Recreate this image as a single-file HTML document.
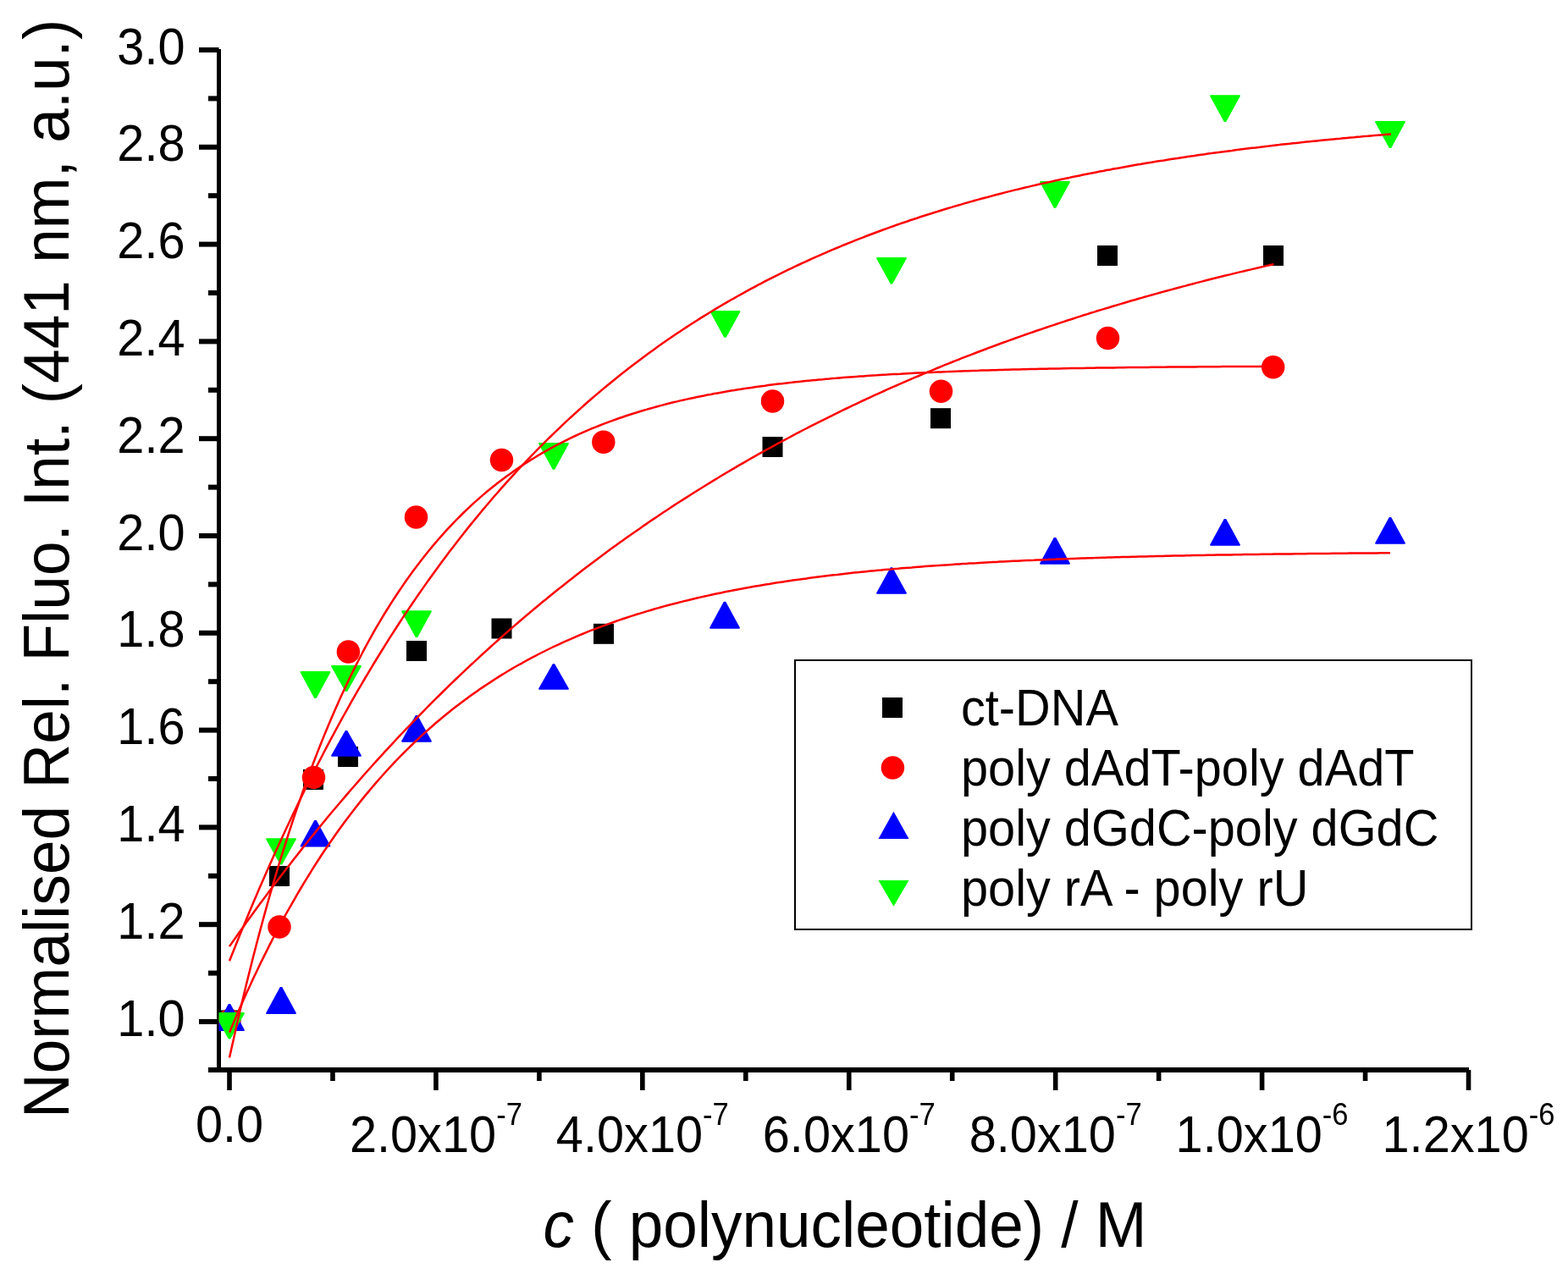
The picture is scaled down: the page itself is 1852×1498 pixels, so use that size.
<!DOCTYPE html>
<html><head><meta charset="utf-8"><title>Fluorescence titration</title>
<style>html,body{margin:0;padding:0;background:#fff;overflow:hidden;}svg{display:block;}</style></head><body>
<svg width="1852" height="1498" viewBox="0 0 1852 1498" font-family="'Liberation Sans', Arial, sans-serif">
<rect x="0" y="0" width="1852" height="1498" fill="#fff"/>
<defs><clipPath id="plot"><rect x="258.5" y="0" width="1500" height="1264"/></clipPath></defs>
<g fill="#000">
<rect x="256" y="58" width="5" height="1209"/>
<rect x="246" y="1261" width="1489" height="6"/>
<rect x="235" y="1204.00" width="23.5" height="6"/>
<rect x="235" y="1089.20" width="23.5" height="6"/>
<rect x="235" y="974.40" width="23.5" height="6"/>
<rect x="235" y="859.60" width="23.5" height="6"/>
<rect x="235" y="744.80" width="23.5" height="6"/>
<rect x="235" y="630.00" width="23.5" height="6"/>
<rect x="235" y="515.20" width="23.5" height="6"/>
<rect x="235" y="400.40" width="23.5" height="6"/>
<rect x="235" y="285.60" width="23.5" height="6"/>
<rect x="235" y="170.80" width="23.5" height="6"/>
<rect x="235" y="56.00" width="23.5" height="6"/>
<rect x="246" y="1146.60" width="12.5" height="6"/>
<rect x="246" y="1031.80" width="12.5" height="6"/>
<rect x="246" y="917.00" width="12.5" height="6"/>
<rect x="246" y="802.20" width="12.5" height="6"/>
<rect x="246" y="687.40" width="12.5" height="6"/>
<rect x="246" y="572.60" width="12.5" height="6"/>
<rect x="246" y="457.80" width="12.5" height="6"/>
<rect x="246" y="343.00" width="12.5" height="6"/>
<rect x="246" y="228.20" width="12.5" height="6"/>
<rect x="246" y="113.40" width="12.5" height="6"/>
<rect x="268.20" y="1264" width="5.6" height="24"/>
<rect x="512.12" y="1264" width="5.6" height="24"/>
<rect x="756.04" y="1264" width="5.6" height="24"/>
<rect x="999.96" y="1264" width="5.6" height="24"/>
<rect x="1243.88" y="1264" width="5.6" height="24"/>
<rect x="1487.80" y="1264" width="5.6" height="24"/>
<rect x="1731.72" y="1264" width="5.6" height="24"/>
<rect x="390.16" y="1264" width="5.6" height="13"/>
<rect x="634.08" y="1264" width="5.6" height="13"/>
<rect x="878.00" y="1264" width="5.6" height="13"/>
<rect x="1121.92" y="1264" width="5.6" height="13"/>
<rect x="1365.84" y="1264" width="5.6" height="13"/>
<rect x="1609.76" y="1264" width="5.6" height="13"/>
</g>
<g font-size="57.7" fill="#000">
<text transform="translate(218.5,1223.60) scale(1,1.045)" text-anchor="end">1.0</text>
<text transform="translate(218.5,1108.80) scale(1,1.045)" text-anchor="end">1.2</text>
<text transform="translate(218.5,994.00) scale(1,1.045)" text-anchor="end">1.4</text>
<text transform="translate(218.5,879.20) scale(1,1.045)" text-anchor="end">1.6</text>
<text transform="translate(218.5,764.40) scale(1,1.045)" text-anchor="end">1.8</text>
<text transform="translate(218.5,649.60) scale(1,1.045)" text-anchor="end">2.0</text>
<text transform="translate(218.5,534.80) scale(1,1.045)" text-anchor="end">2.2</text>
<text transform="translate(218.5,420.00) scale(1,1.045)" text-anchor="end">2.4</text>
<text transform="translate(218.5,305.20) scale(1,1.045)" text-anchor="end">2.6</text>
<text transform="translate(218.5,190.40) scale(1,1.045)" text-anchor="end">2.8</text>
<text transform="translate(218.5,75.60) scale(1,1.045)" text-anchor="end">3.0</text>
<text transform="translate(271,1348.8) scale(1,1.045)" text-anchor="middle">0.0</text>
<text transform="translate(514.92,1361.4) scale(1,1.045)" text-anchor="middle">2.0x10<tspan font-size="34.6" dy="-31.3">-7</tspan></text>
<text transform="translate(758.84,1361.4) scale(1,1.045)" text-anchor="middle">4.0x10<tspan font-size="34.6" dy="-31.3">-7</tspan></text>
<text transform="translate(1002.76,1361.4) scale(1,1.045)" text-anchor="middle">6.0x10<tspan font-size="34.6" dy="-31.3">-7</tspan></text>
<text transform="translate(1246.68,1361.4) scale(1,1.045)" text-anchor="middle">8.0x10<tspan font-size="34.6" dy="-31.3">-7</tspan></text>
<text transform="translate(1490.60,1361.4) scale(1,1.045)" text-anchor="middle">1.0x10<tspan font-size="34.6" dy="-31.3">-6</tspan></text>
<text transform="translate(1734.52,1361.4) scale(1,1.045)" text-anchor="middle">1.2x10<tspan font-size="34.6" dy="-31.3">-6</tspan></text>
</g>
<text transform="translate(81,671.9) rotate(-90) scale(1,1.045)" text-anchor="middle" font-size="73.0">Normalised Rel. Fluo. Int. (441 nm, a.u.)</text>
<text transform="translate(998,1473) scale(1,1.045)" text-anchor="middle" font-size="72.9"><tspan font-style="italic">c</tspan> ( polynucleotide) / M</text>
<g clip-path="url(#plot)">
<g fill="#000">
<rect x="258.0" y="1193.5" width="24" height="24"/>
<rect x="318.0" y="1023.0" width="24" height="24"/>
<rect x="358.0" y="909.0" width="24" height="24"/>
<rect x="399.0" y="882.0" width="24" height="24"/>
<rect x="480.0" y="757.0" width="24" height="24"/>
<rect x="580.5" y="730.5" width="24" height="24"/>
<rect x="701.0" y="736.8" width="24" height="24"/>
<rect x="900.5" y="516.0" width="24" height="24"/>
<rect x="1099.0" y="482.2" width="24" height="24"/>
<rect x="1296.0" y="290.0" width="24" height="24"/>
<rect x="1492.0" y="290.0" width="24" height="24"/>
</g><g fill="#f00">
<circle cx="271" cy="1205.5" r="13.75"/>
<circle cx="330" cy="1095" r="13.75"/>
<circle cx="370.5" cy="918.4" r="13.75"/>
<circle cx="411.4" cy="770" r="13.75"/>
<circle cx="491.5" cy="611" r="13.75"/>
<circle cx="592.5" cy="543.5" r="13.75"/>
<circle cx="712.8" cy="522.3" r="13.75"/>
<circle cx="912.5" cy="474" r="13.75"/>
<circle cx="1111.5" cy="462.3" r="13.75"/>
<circle cx="1308.5" cy="399.5" r="13.75"/>
<circle cx="1503.7" cy="433.8" r="13.75"/>
</g><g fill="#00f">
<polygon points="269.8,1186 272.2,1186 289,1217 288.3,1218 253.7,1218 253,1217"/>
<polygon points="330.8,1166 333.2,1166 350,1197 349.3,1198 314.7,1198 314,1197"/>
<polygon points="371.3,969 373.7,969 390.5,999.6 389.8,1000.6 355.2,1000.6 354.5,999.6"/>
<polygon points="407.8,863 410.2,863 427,892.7 426.3,893.7 391.7,893.7 391,892.7"/>
<polygon points="490.8,845 493.2,845 510,875.7 509.3,876.7 474.7,876.7 474,875.7"/>
<polygon points="652.8,784.3 655.2,784.3 672,813.7 671.3,814.7 636.7,814.7 636,813.7"/>
<polygon points="854.8,710.8 857.2,710.8 874,741.8 873.3,742.8 838.7,742.8 838,741.8"/>
<polygon points="1051.8,670.2 1054.2,670.2 1071,700.8 1070.3,701.8 1035.7,701.8 1035,700.8"/>
<polygon points="1244.8,635 1247.2,635 1264,665.7 1263.3,666.7 1228.7,666.7 1228,665.7"/>
<polygon points="1445.8,613 1448.2,613 1465,643.7 1464.3,644.7 1429.7,644.7 1429,643.7"/>
<polygon points="1640.8,611.1 1643.2,611.1 1660,641.8 1659.3,642.8 1624.7,642.8 1624,641.8"/>
</g><g fill="#0f0">
<polygon points="253,1197 253.7,1196 288.3,1196 289,1197 272.2,1227.5 269.8,1227.5"/>
<polygon points="314,991.2 314.7,990.2 349.3,990.2 350,991.2 333.2,1021.4 330.8,1021.4"/>
<polygon points="354.5,794 355.2,793 389.8,793 390.5,794 373.7,824.9 371.3,824.9"/>
<polygon points="391,787.1 391.7,786.1 426.3,786.1 427,787.1 410.2,816.9 407.8,816.9"/>
<polygon points="474,722.3 474.7,721.3 509.3,721.3 510,722.3 493.2,752.9 490.8,752.9"/>
<polygon points="636,524 636.7,523 671.3,523 672,524 655.2,554.8 652.8,554.8"/>
<polygon points="838.5,368 839.2,367 873.8,367 874.5,368 857.7,398.8 855.3,398.8"/>
<polygon points="1035,305.1 1035.7,304.1 1070.3,304.1 1071,305.1 1054.2,335.6 1051.8,335.6"/>
<polygon points="1228,215.1 1228.7,214.1 1263.3,214.1 1264,215.1 1247.2,245.8 1244.8,245.8"/>
<polygon points="1429,113.2 1429.7,112.2 1464.3,112.2 1465,113.2 1448.2,143.9 1445.8,143.9"/>
<polygon points="1624,144 1624.7,143 1659.3,143 1660,144 1643.2,174.9 1640.8,174.9"/>
</g>
<g fill="none" stroke="#f00" stroke-width="2.5" stroke-linejoin="round">
<polyline points="271.0,1118.1 275.0,1112.4 279.0,1106.7 283.0,1101.0 287.0,1095.4 291.0,1089.8 295.0,1084.3 299.0,1078.7 303.0,1073.3 307.0,1067.8 311.0,1062.4 315.1,1057.0 319.1,1051.6 323.1,1046.3 327.1,1041.0 331.1,1035.8 335.1,1030.5 339.1,1025.3 343.1,1020.2 347.1,1015.0 351.1,1009.9 355.1,1004.9 359.1,999.8 363.1,994.8 367.1,989.8 371.1,984.9 375.1,979.9 379.1,975.0 383.1,970.2 387.1,965.3 391.1,960.5 395.2,955.8 399.2,951.0 403.2,946.3 407.2,941.6 411.2,936.9 415.2,932.3 419.2,927.7 423.2,923.1 427.2,918.5 431.2,914.0 435.2,909.5 439.2,905.0 443.2,900.6 447.2,896.2 451.2,891.8 455.2,887.4 459.2,883.1 463.2,878.8 467.2,874.5 471.2,870.2 475.2,866.0 479.3,861.7 483.3,857.6 487.3,853.4 491.3,849.3 495.3,845.1 499.3,841.1 503.3,837.0 507.3,832.9 511.3,828.9 515.3,824.9 519.3,821.0 523.3,817.0 527.3,813.1 531.3,809.2 535.3,805.3 539.3,801.5 543.3,797.7 547.3,793.9 551.3,790.1 555.3,786.3 559.4,782.6 563.4,778.9 567.4,775.2 571.4,771.5 575.4,767.8 579.4,764.2 583.4,760.6 587.4,757.0 591.4,753.5 595.4,749.9 599.4,746.4 603.4,742.9 607.4,739.4 611.4,736.0 615.4,732.5 619.4,729.1 623.4,725.7 627.4,722.4 631.4,719.0 635.4,715.7 639.4,712.3 643.5,709.1 647.5,705.8 651.5,702.5 655.5,699.3 659.5,696.1 663.5,692.9 667.5,689.7 671.5,686.5 675.5,683.4 679.5,680.3 683.5,677.2 687.5,674.1 691.5,671.0 695.5,668.0 699.5,664.9 703.5,661.9 707.5,658.9 711.5,656.0 715.5,653.0 719.5,650.1 723.6,647.1 727.6,644.2 731.6,641.3 735.6,638.5 739.6,635.6 743.6,632.8 747.6,630.0 751.6,627.2 755.6,624.4 759.6,621.6 763.6,618.9 767.6,616.1 771.6,613.4 775.6,610.7 779.6,608.0 783.6,605.3 787.6,602.7 791.6,600.0 795.6,597.4 799.6,594.8 803.6,592.2 807.7,589.6 811.7,587.1 815.7,584.5 819.7,582.0 823.7,579.5 827.7,577.0 831.7,574.5 835.7,572.0 839.7,569.6 843.7,567.1 847.7,564.7 851.7,562.3 855.7,559.9 859.7,557.5 863.7,555.1 867.7,552.8 871.7,550.4 875.7,548.1 879.7,545.8 883.7,543.5 887.8,541.2 891.8,538.9 895.8,536.7 899.8,534.4 903.8,532.2 907.8,530.0 911.8,527.8 915.8,525.6 919.8,523.4 923.8,521.3 927.8,519.1 931.8,517.0 935.8,514.8 939.8,512.7 943.8,510.6 947.8,508.5 951.8,506.5 955.8,504.4 959.8,502.3 963.8,500.3 967.8,498.3 971.9,496.3 975.9,494.3 979.9,492.3 983.9,490.3 987.9,488.3 991.9,486.4 995.9,484.4 999.9,482.5 1003.9,480.6 1007.9,478.7 1011.9,476.8 1015.9,474.9 1019.9,473.0 1023.9,471.1 1027.9,469.3 1031.9,467.4 1035.9,465.6 1039.9,463.8 1043.9,462.0 1047.9,460.2 1051.9,458.4 1056.0,456.6 1060.0,454.8 1064.0,453.1 1068.0,451.3 1072.0,449.6 1076.0,447.9 1080.0,446.2 1084.0,444.5 1088.0,442.8 1092.0,441.1 1096.0,439.4 1100.0,437.8 1104.0,436.1 1108.0,434.5 1112.0,432.8 1116.0,431.2 1120.0,429.6 1124.0,428.0 1128.0,426.4 1132.0,424.8 1136.1,423.2 1140.1,421.7 1144.1,420.1 1148.1,418.6 1152.1,417.0 1156.1,415.5 1160.1,414.0 1164.1,412.5 1168.1,410.9 1172.1,409.5 1176.1,408.0 1180.1,406.5 1184.1,405.0 1188.1,403.6 1192.1,402.1 1196.1,400.7 1200.1,399.3 1204.1,397.8 1208.1,396.4 1212.1,395.0 1216.1,393.6 1220.2,392.2 1224.2,390.8 1228.2,389.5 1232.2,388.1 1236.2,386.7 1240.2,385.4 1244.2,384.1 1248.2,382.7 1252.2,381.4 1256.2,380.1 1260.2,378.8 1264.2,377.5 1268.2,376.2 1272.2,374.9 1276.2,373.6 1280.2,372.3 1284.2,371.1 1288.2,369.8 1292.2,368.6 1296.2,367.3 1300.3,366.1 1304.3,364.9 1308.3,363.7 1312.3,362.5 1316.3,361.3 1320.3,360.1 1324.3,358.9 1328.3,357.7 1332.3,356.5 1336.3,355.3 1340.3,354.2 1344.3,353.0 1348.3,351.9 1352.3,350.7 1356.3,349.6 1360.3,348.5 1364.3,347.4 1368.3,346.3 1372.3,345.1 1376.3,344.0 1380.3,343.0 1384.4,341.9 1388.4,340.8 1392.4,339.7 1396.4,338.6 1400.4,337.6 1404.4,336.5 1408.4,335.5 1412.4,334.4 1416.4,333.4 1420.4,332.4 1424.4,331.3 1428.4,330.3 1432.4,329.3 1436.4,328.3 1440.4,327.3 1444.4,326.3 1448.4,325.3 1452.4,324.4 1456.4,323.4 1460.4,322.4 1464.5,321.4 1468.5,320.5 1472.5,319.5 1476.5,318.6 1480.5,317.6 1484.5,316.7 1488.5,315.8 1492.5,314.9 1496.5,313.9 1500.5,313.0 1504.5,312.1"/>
<polyline points="271.0,1219.7 275.0,1210.2 279.0,1200.8 283.0,1191.5 287.0,1182.5 291.0,1173.5 295.1,1164.8 299.1,1156.1 303.1,1147.7 307.1,1139.3 311.1,1131.1 315.1,1123.1 319.1,1115.1 323.1,1107.3 327.1,1099.7 331.1,1092.1 335.1,1084.7 339.1,1077.5 343.2,1070.3 347.2,1063.3 351.2,1056.3 355.2,1049.5 359.2,1042.8 363.2,1036.3 367.2,1029.8 371.2,1023.4 375.2,1017.2 379.2,1011.0 383.2,1005.0 387.3,999.1 391.3,993.2 395.3,987.5 399.3,981.8 403.3,976.3 407.3,970.8 411.3,965.4 415.3,960.2 419.3,955.0 423.3,949.9 427.3,944.9 431.4,939.9 435.4,935.1 439.4,930.3 443.4,925.6 447.4,921.0 451.4,916.5 455.4,912.0 459.4,907.7 463.4,903.4 467.4,899.1 471.4,895.0 475.4,890.9 479.5,886.8 483.5,882.9 487.5,879.0 491.5,875.2 495.5,871.4 499.5,867.7 503.5,864.1 507.5,860.5 511.5,857.0 515.5,853.5 519.5,850.2 523.6,846.8 527.6,843.5 531.6,840.3 535.6,837.1 539.6,834.0 543.6,830.9 547.6,827.9 551.6,825.0 555.6,822.0 559.6,819.2 563.6,816.4 567.6,813.6 571.7,810.9 575.7,808.2 579.7,805.6 583.7,803.0 587.7,800.4 591.7,797.9 595.7,795.5 599.7,793.0 603.7,790.7 607.7,788.3 611.7,786.0 615.8,783.8 619.8,781.5 623.8,779.4 627.8,777.2 631.8,775.1 635.8,773.0 639.8,771.0 643.8,769.0 647.8,767.0 651.8,765.0 655.8,763.1 659.9,761.3 663.9,759.4 667.9,757.6 671.9,755.8 675.9,754.1 679.9,752.3 683.9,750.7 687.9,749.0 691.9,747.3 695.9,745.7 699.9,744.2 703.9,742.6 708.0,741.1 712.0,739.6 716.0,738.1 720.0,736.6 724.0,735.2 728.0,733.8 732.0,732.4 736.0,731.0 740.0,729.7 744.0,728.4 748.0,727.1 752.1,725.8 756.1,724.6 760.1,723.4 764.1,722.1 768.1,721.0 772.1,719.8 776.1,718.6 780.1,717.5 784.1,716.4 788.1,715.3 792.1,714.2 796.1,713.2 800.2,712.2 804.2,711.1 808.2,710.1 812.2,709.2 816.2,708.2 820.2,707.2 824.2,706.3 828.2,705.4 832.2,704.5 836.2,703.6 840.2,702.7 844.3,701.8 848.3,701.0 852.3,700.2 856.3,699.3 860.3,698.5 864.3,697.8 868.3,697.0 872.3,696.2 876.3,695.5 880.3,694.7 884.3,694.0 888.4,693.3 892.4,692.6 896.4,691.9 900.4,691.2 904.4,690.5 908.4,689.9 912.4,689.2 916.4,688.6 920.4,688.0 924.4,687.4 928.4,686.8 932.4,686.2 936.5,685.6 940.5,685.0 944.5,684.5 948.5,683.9 952.5,683.4 956.5,682.8 960.5,682.3 964.5,681.8 968.5,681.3 972.5,680.8 976.5,680.3 980.6,679.8 984.6,679.3 988.6,678.9 992.6,678.4 996.6,677.9 1000.6,677.5 1004.6,677.1 1008.6,676.6 1012.6,676.2 1016.6,675.8 1020.6,675.4 1024.6,675.0 1028.7,674.6 1032.7,674.2 1036.7,673.8 1040.7,673.5 1044.7,673.1 1048.7,672.7 1052.7,672.4 1056.7,672.0 1060.7,671.7 1064.7,671.3 1068.7,671.0 1072.8,670.7 1076.8,670.4 1080.8,670.0 1084.8,669.7 1088.8,669.4 1092.8,669.1 1096.8,668.8 1100.8,668.5 1104.8,668.2 1108.8,668.0 1112.8,667.7 1116.9,667.4 1120.9,667.2 1124.9,666.9 1128.9,666.6 1132.9,666.4 1136.9,666.1 1140.9,665.9 1144.9,665.6 1148.9,665.4 1152.9,665.2 1156.9,664.9 1160.9,664.7 1165.0,664.5 1169.0,664.3 1173.0,664.1 1177.0,663.9 1181.0,663.6 1185.0,663.4 1189.0,663.2 1193.0,663.0 1197.0,662.8 1201.0,662.7 1205.0,662.5 1209.1,662.3 1213.1,662.1 1217.1,661.9 1221.1,661.8 1225.1,661.6 1229.1,661.4 1233.1,661.2 1237.1,661.1 1241.1,660.9 1245.1,660.8 1249.1,660.6 1253.1,660.5 1257.2,660.3 1261.2,660.2 1265.2,660.0 1269.2,659.9 1273.2,659.7 1277.2,659.6 1281.2,659.5 1285.2,659.3 1289.2,659.2 1293.2,659.1 1297.2,658.9 1301.3,658.8 1305.3,658.7 1309.3,658.6 1313.3,658.5 1317.3,658.3 1321.3,658.2 1325.3,658.1 1329.3,658.0 1333.3,657.9 1337.3,657.8 1341.3,657.7 1345.4,657.6 1349.4,657.5 1353.4,657.4 1357.4,657.3 1361.4,657.2 1365.4,657.1 1369.4,657.0 1373.4,656.9 1377.4,656.8 1381.4,656.7 1385.4,656.6 1389.4,656.5 1393.5,656.5 1397.5,656.4 1401.5,656.3 1405.5,656.2 1409.5,656.1 1413.5,656.1 1417.5,656.0 1421.5,655.9 1425.5,655.8 1429.5,655.8 1433.5,655.7 1437.6,655.6 1441.6,655.6 1445.6,655.5 1449.6,655.4 1453.6,655.4 1457.6,655.3 1461.6,655.2 1465.6,655.2 1469.6,655.1 1473.6,655.0 1477.6,655.0 1481.6,654.9 1485.7,654.9 1489.7,654.8 1493.7,654.8 1497.7,654.7 1501.7,654.7 1505.7,654.6 1509.7,654.5 1513.7,654.5 1517.7,654.4 1521.7,654.4 1525.7,654.4 1529.8,654.3 1533.8,654.3 1537.8,654.2 1541.8,654.2 1545.8,654.1 1549.8,654.1 1553.8,654.0 1557.8,654.0 1561.8,654.0 1565.8,653.9 1569.8,653.9 1573.9,653.8 1577.9,653.8 1581.9,653.8 1585.9,653.7 1589.9,653.7 1593.9,653.6 1597.9,653.6 1601.9,653.6 1605.9,653.5 1609.9,653.5 1613.9,653.5 1617.9,653.4 1622.0,653.4 1626.0,653.4 1630.0,653.3 1634.0,653.3 1638.0,653.3 1642.0,653.3"/>
<polyline points="271.0,1249.5 275.0,1231.4 279.0,1213.7 283.0,1196.3 287.0,1179.4 291.0,1162.8 295.0,1146.6 299.0,1130.8 303.0,1115.3 307.0,1100.1 311.0,1085.3 315.0,1070.8 319.0,1056.7 323.0,1042.8 327.0,1029.3 331.0,1016.0 335.1,1003.1 339.1,990.4 343.1,978.0 347.1,965.9 351.1,954.1 355.1,942.5 359.1,931.2 363.1,920.1 367.1,909.3 371.1,898.7 375.1,888.4 379.1,878.3 383.1,868.4 387.1,858.7 391.1,849.2 395.1,840.0 399.1,830.9 403.1,822.1 407.1,813.4 411.1,805.0 415.1,796.7 419.1,788.6 423.1,780.7 427.1,773.0 431.1,765.4 435.1,758.0 439.1,750.8 443.1,743.7 447.1,736.8 451.1,730.1 455.1,723.5 459.2,717.0 463.2,710.7 467.2,704.5 471.2,698.5 475.2,692.6 479.2,686.8 483.2,681.1 487.2,675.6 491.2,670.2 495.2,664.9 499.2,659.8 503.2,654.7 507.2,649.8 511.2,644.9 515.2,640.2 519.2,635.6 523.2,631.1 527.2,626.7 531.2,622.4 535.2,618.1 539.2,614.0 543.2,610.0 547.2,606.0 551.2,602.2 555.2,598.4 559.2,594.7 563.2,591.1 567.2,587.6 571.2,584.1 575.2,580.8 579.2,577.5 583.3,574.2 587.3,571.1 591.3,568.0 595.3,565.0 599.3,562.0 603.3,559.2 607.3,556.3 611.3,553.6 615.3,550.9 619.3,548.2 623.3,545.7 627.3,543.1 631.3,540.7 635.3,538.3 639.3,535.9 643.3,533.6 647.3,531.4 651.3,529.2 655.3,527.0 659.3,524.9 663.3,522.8 667.3,520.8 671.3,518.9 675.3,516.9 679.3,515.0 683.3,513.2 687.3,511.4 691.3,509.6 695.3,507.9 699.3,506.2 703.4,504.6 707.4,503.0 711.4,501.4 715.4,499.9 719.4,498.4 723.4,496.9 727.4,495.5 731.4,494.0 735.4,492.7 739.4,491.3 743.4,490.0 747.4,488.7 751.4,487.5 755.4,486.2 759.4,485.0 763.4,483.9 767.4,482.7 771.4,481.6 775.4,480.5 779.4,479.4 783.4,478.4 787.4,477.3 791.4,476.3 795.4,475.3 799.4,474.4 803.4,473.4 807.4,472.5 811.4,471.6 815.4,470.7 819.4,469.9 823.4,469.1 827.5,468.2 831.5,467.4 835.5,466.6 839.5,465.9 843.5,465.1 847.5,464.4 851.5,463.7 855.5,463.0 859.5,462.3 863.5,461.6 867.5,461.0 871.5,460.3 875.5,459.7 879.5,459.1 883.5,458.5 887.5,457.9 891.5,457.3 895.5,456.7 899.5,456.2 903.5,455.7 907.5,455.1 911.5,454.6 915.5,454.1 919.5,453.6 923.5,453.2 927.5,452.7 931.5,452.2 935.5,451.8 939.5,451.3 943.5,450.9 947.5,450.5 951.6,450.1 955.6,449.7 959.6,449.3 963.6,448.9 967.6,448.5 971.6,448.2 975.6,447.8 979.6,447.5 983.6,447.1 987.6,446.8 991.6,446.4 995.6,446.1 999.6,445.8 1003.6,445.5 1007.6,445.2 1011.6,444.9 1015.6,444.6 1019.6,444.4 1023.6,444.1 1027.6,443.8 1031.6,443.5 1035.6,443.3 1039.6,443.0 1043.6,442.8 1047.6,442.6 1051.6,442.3 1055.6,442.1 1059.6,441.9 1063.6,441.7 1067.6,441.4 1071.6,441.2 1075.7,441.0 1079.7,440.8 1083.7,440.6 1087.7,440.4 1091.7,440.2 1095.7,440.1 1099.7,439.9 1103.7,439.7 1107.7,439.5 1111.7,439.4 1115.7,439.2 1119.7,439.1 1123.7,438.9 1127.7,438.7 1131.7,438.6 1135.7,438.4 1139.7,438.3 1143.7,438.2 1147.7,438.0 1151.7,437.9 1155.7,437.8 1159.7,437.6 1163.7,437.5 1167.7,437.4 1171.7,437.3 1175.7,437.2 1179.7,437.0 1183.7,436.9 1187.7,436.8 1191.7,436.7 1195.8,436.6 1199.8,436.5 1203.8,436.4 1207.8,436.3 1211.8,436.2 1215.8,436.1 1219.8,436.0 1223.8,435.9 1227.8,435.8 1231.8,435.8 1235.8,435.7 1239.8,435.6 1243.8,435.5 1247.8,435.4 1251.8,435.4 1255.8,435.3 1259.8,435.2 1263.8,435.1 1267.8,435.1 1271.8,435.0 1275.8,434.9 1279.8,434.9 1283.8,434.8 1287.8,434.7 1291.8,434.7 1295.8,434.6 1299.8,434.6 1303.8,434.5 1307.8,434.5 1311.8,434.4 1315.8,434.4 1319.9,434.3 1323.9,434.2 1327.9,434.2 1331.9,434.1 1335.9,434.1 1339.9,434.1 1343.9,434.0 1347.9,434.0 1351.9,433.9 1355.9,433.9 1359.9,433.8 1363.9,433.8 1367.9,433.8 1371.9,433.7 1375.9,433.7 1379.9,433.6 1383.9,433.6 1387.9,433.6 1391.9,433.5 1395.9,433.5 1399.9,433.5 1403.9,433.4 1407.9,433.4 1411.9,433.4 1415.9,433.3 1419.9,433.3 1423.9,433.3 1427.9,433.3 1431.9,433.2 1435.9,433.2 1439.9,433.2 1444.0,433.1 1448.0,433.1 1452.0,433.1 1456.0,433.1 1460.0,433.0 1464.0,433.0 1468.0,433.0 1472.0,433.0 1476.0,433.0 1480.0,432.9 1484.0,432.9 1488.0,432.9 1492.0,432.9 1496.0,432.9 1500.0,432.8 1504.0,432.8"/>
<polyline points="271.0,1135.3 275.0,1125.2 279.0,1115.2 283.0,1105.4 287.0,1095.6 291.0,1085.9 295.0,1076.3 299.0,1066.8 303.0,1057.4 307.0,1048.1 311.0,1038.9 315.0,1029.8 319.0,1020.8 323.0,1011.8 327.0,1003.0 331.0,994.2 335.0,985.5 339.0,977.0 343.0,968.5 347.0,960.0 351.0,951.7 355.0,943.5 359.0,935.3 363.0,927.2 367.0,919.2 371.0,911.3 375.0,903.5 379.0,895.7 383.0,888.0 387.0,880.4 391.0,872.9 395.0,865.4 399.0,858.0 403.0,850.7 407.0,843.5 411.0,836.3 415.0,829.2 419.0,822.2 423.0,815.2 427.0,808.4 431.0,801.5 435.0,794.8 439.0,788.1 443.0,781.5 447.0,775.0 451.0,768.5 455.0,762.1 459.0,755.7 463.0,749.4 467.0,743.2 471.0,737.0 475.0,730.9 479.0,724.9 483.0,718.9 487.0,713.0 491.0,707.1 495.0,701.3 499.0,695.6 503.0,689.9 507.0,684.3 511.0,678.7 515.0,673.2 519.0,667.7 523.0,662.3 527.0,656.9 531.0,651.6 535.0,646.4 539.0,641.2 543.0,636.0 547.0,630.9 551.0,625.9 555.0,620.9 559.0,616.0 563.0,611.1 567.0,606.2 571.0,601.4 575.0,596.7 579.0,592.0 583.0,587.3 587.0,582.7 591.0,578.2 595.0,573.7 599.0,569.2 603.0,564.8 607.0,560.4 611.0,556.0 615.0,551.7 619.0,547.5 623.0,543.3 627.0,539.1 631.0,535.0 635.0,530.9 639.0,526.9 643.0,522.9 647.0,518.9 651.0,515.0 655.0,511.1 659.0,507.3 663.0,503.4 667.0,499.7 671.0,495.9 675.0,492.3 679.0,488.6 683.0,485.0 687.0,481.4 691.0,477.8 695.0,474.3 699.0,470.8 703.0,467.4 707.0,464.0 711.0,460.6 715.0,457.3 719.0,454.0 723.0,450.7 727.0,447.5 731.0,444.2 735.0,441.1 739.0,437.9 743.0,434.8 747.0,431.7 751.0,428.7 755.0,425.7 759.0,422.7 763.0,419.7 767.0,416.8 771.0,413.9 775.0,411.0 779.0,408.1 783.0,405.3 787.0,402.5 791.0,399.8 795.0,397.0 799.0,394.3 803.0,391.7 807.0,389.0 811.0,386.4 815.0,383.8 819.0,381.2 823.0,378.7 827.0,376.1 831.0,373.6 835.0,371.2 839.0,368.7 843.0,366.3 847.0,363.9 851.0,361.5 855.0,359.2 859.0,356.9 863.0,354.5 867.0,352.3 871.0,350.0 875.0,347.8 879.0,345.6 883.0,343.4 887.0,341.2 891.0,339.1 895.0,336.9 899.0,334.8 903.0,332.7 907.0,330.7 911.0,328.6 915.0,326.6 919.0,324.6 923.0,322.6 927.0,320.7 931.0,318.7 935.0,316.8 939.0,314.9 943.0,313.0 947.0,311.1 951.0,309.3 955.0,307.5 959.0,305.7 963.0,303.9 967.0,302.1 971.0,300.3 975.0,298.6 979.0,296.9 983.0,295.2 987.0,293.5 991.0,291.8 995.0,290.1 999.0,288.5 1003.0,286.9 1007.0,285.3 1011.0,283.7 1015.0,282.1 1019.0,280.6 1023.0,279.0 1027.0,277.5 1031.0,276.0 1035.0,274.5 1039.0,273.0 1043.0,271.5 1047.0,270.1 1051.0,268.6 1055.0,267.2 1059.0,265.8 1063.0,264.4 1067.0,263.0 1071.0,261.7 1075.0,260.3 1079.0,259.0 1083.0,257.7 1087.0,256.3 1091.0,255.0 1095.0,253.7 1099.0,252.5 1103.0,251.2 1107.0,250.0 1111.0,248.7 1115.0,247.5 1119.0,246.3 1123.0,245.1 1127.0,243.9 1131.0,242.7 1135.0,241.6 1139.0,240.4 1143.0,239.3 1147.0,238.1 1151.0,237.0 1155.0,235.9 1159.0,234.8 1163.0,233.7 1167.0,232.7 1171.0,231.6 1175.0,230.5 1179.0,229.5 1183.0,228.5 1187.0,227.4 1191.0,226.4 1195.0,225.4 1199.0,224.4 1203.0,223.5 1207.0,222.5 1211.0,221.5 1215.0,220.6 1219.0,219.6 1223.0,218.7 1227.0,217.8 1231.0,216.9 1235.0,216.0 1239.0,215.1 1243.0,214.2 1247.0,213.3 1251.0,212.4 1255.0,211.6 1259.0,210.7 1263.0,209.9 1267.0,209.0 1271.0,208.2 1275.0,207.4 1279.0,206.6 1283.0,205.8 1287.0,205.0 1291.0,204.2 1295.0,203.4 1299.0,202.6 1303.0,201.9 1307.0,201.1 1311.0,200.4 1315.0,199.6 1319.0,198.9 1323.0,198.2 1327.0,197.4 1331.0,196.7 1335.0,196.0 1339.0,195.3 1343.0,194.6 1347.0,194.0 1351.0,193.3 1355.0,192.6 1359.0,191.9 1363.0,191.3 1367.0,190.6 1371.0,190.0 1375.0,189.4 1379.0,188.7 1383.0,188.1 1387.0,187.5 1391.0,186.9 1395.0,186.3 1399.0,185.7 1403.0,185.1 1407.0,184.5 1411.0,183.9 1415.0,183.3 1419.0,182.7 1423.0,182.2 1427.0,181.6 1431.0,181.1 1435.0,180.5 1439.0,180.0 1443.0,179.4 1447.0,178.9 1451.0,178.4 1455.0,177.9 1459.0,177.3 1463.0,176.8 1467.0,176.3 1471.0,175.8 1475.0,175.3 1479.0,174.8 1483.0,174.4 1487.0,173.9 1491.0,173.4 1495.0,172.9 1499.0,172.5 1503.0,172.0 1507.0,171.5 1511.0,171.1 1515.0,170.6 1519.0,170.2 1523.0,169.8 1527.0,169.3 1531.0,168.9 1535.0,168.5 1539.0,168.0 1543.0,167.6 1547.0,167.2 1551.0,166.8 1555.0,166.4 1559.0,166.0 1563.0,165.6 1567.0,165.2 1571.0,164.8 1575.0,164.4 1579.0,164.0 1583.0,163.7 1587.0,163.3 1591.0,162.9 1595.0,162.5 1599.0,162.2 1603.0,161.8 1607.0,161.5 1611.0,161.1 1615.0,160.8 1619.0,160.4 1623.0,160.1 1627.0,159.7 1631.0,159.4 1635.0,159.1 1639.0,158.7 1643.0,158.4"/>
</g></g>
<rect x="939" y="780" width="799" height="318" fill="none" stroke="#000" stroke-width="2"/>
<rect x="1042" y="824" width="24" height="24" fill="#000"/>
<circle cx="1054.4" cy="907" r="13.75" fill="#f00"/>
<polygon points="1055.5,958.8 1037.5,990.9 1073.5,990.9" fill="#00f"/>
<polygon points="1037.5,1039.9 1073.5,1039.9 1055.5,1070.8" fill="#0f0"/>
<g font-size="57.7" fill="#000">
<text transform="translate(1135,856.90) scale(1,1.045)">ct-DNA</text>
<text transform="translate(1135,927.95) scale(1,1.045)">poly dAdT-poly dAdT</text>
<text transform="translate(1135,999.00) scale(1,1.045)">poly dGdC-poly dGdC</text>
<text transform="translate(1135,1070.05) scale(1,1.045)">poly rA - poly rU</text>
</g>
</svg></body></html>
